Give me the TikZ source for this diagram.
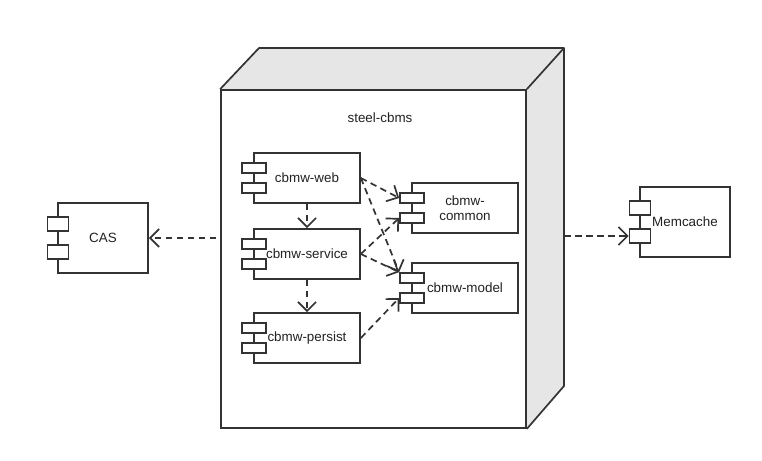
\documentclass[tikz,border=0pt]{standalone}
\usepackage{fontspec}
\setmainfont{Liberation Sans}
\usetikzlibrary{arrows.meta}
\definecolor{lc}{HTML}{333333}
\definecolor{tc}{HTML}{222222}
\definecolor{sidegray}{HTML}{E6E6E6}
\begin{document}
\begin{tikzpicture}[x=1pt,y=-1pt,
 comp/.style={draw=lc,line width=1.7pt,fill=white,minimum width=106pt,minimum height=50pt,inner sep=0pt,text=tc,align=center},
 tab/.style={draw=lc,line width=1.7pt,fill=white,minimum width=24pt,minimum height=10pt,inner sep=0pt},
 bigtab/.style={draw=lc,line width=1.7pt,fill=white,minimum width=21pt,minimum height=14pt,inner sep=0pt},
 dep/.style={draw=lc,line width=1.7pt,dash pattern=on 6.5pt off 4.5pt,-{Straight Barb[length=9pt,width=18pt,line width=1.7pt]}},
 lbl/.style={font=\fontsize{13.4}{15}\selectfont,text=tc},
]
\useasboundingbox (0,0) rectangle (762,460);
% 3D node
\fill[sidegray] (221,90) -- (259,48) -- (564,48) -- (564,386) -- (526,428) -- (526,90) -- cycle;
\node[draw=lc,line width=1.7pt,fill=white,minimum width=305pt,minimum height=338pt,inner sep=0pt] (sys) at (373.5,259) {};
\draw[lc,line width=1.7pt,line join=round] (sys.north west) -- (259,48) -- (564,48) -- (564,386) -- (sys.south east);
\draw[lc,line width=1.7pt] (sys.north east) -- (564,48);
\node[lbl] (systitle) at (380,118) {steel-cbms};
% components inside
\node[comp] (web) at (307,178) {};
\node[tab] (wt1) at (254,168) {};
\node[tab] (wt2) at (254,188) {};
\node[lbl] (webl) at (307,178) {cbmw-web};
\node[comp] (service) at (307,254) {};
\node[tab] (st1) at (254,244) {};
\node[tab] (st2) at (254,264) {};
\node[lbl] (servicel) at (307,254) {cbmw-service};
\node[comp] (persist) at (307,338) {};
\node[tab] (pt1) at (254,328) {};
\node[tab] (pt2) at (254,348) {};
\node[lbl] (persistl) at (307,338) {cbmw-persist};
\node[comp] (common) at (465,208) {};
\node[tab] (ct1) at (412,198) {};
\node[tab] (ct2) at (412,218) {};
\node[lbl,align=center] (commonl) at (465,208) {cbmw-\\common};
\node[comp] (model) at (465,288) {};
\node[tab] (mt1) at (412,278) {};
\node[tab] (mt2) at (412,298) {};
\node[lbl] (modell) at (465,288) {cbmw-model};
% external
\node[comp,minimum width=90pt,minimum height=70pt] (cas) at (103,238) {};
\node[bigtab] (cast1) at (58,224) {};
\node[bigtab] (cast2) at (58,252) {};
\node[lbl] (casl) at (103,238) {CAS};
\node[comp,minimum width=90pt,minimum height=70pt] (mem) at (685,222) {};
\node[bigtab] (memt1) at (640,208) {};
\node[bigtab] (memt2) at (640,236) {};
\node[lbl] (meml) at (685,222) {Memcache};
% connectors
\draw[dep] (web.south) -- (service.north);
\draw[dep] (service.south) -- (persist.north);
\draw[dep] (web.east) -- (ct1.west);
\draw[dep] (web.east) -- (mt1.north west);
\draw[dep] (service.east) -- (ct2.west);
\draw[dep] (service.east) -- (mt1.north west);
\draw[dep] (persist.east) -- (mt2.west);
\coordinate (casfrom) at (216,238);
\draw[dep] (casfrom) -- (cas.east);
\coordinate (memfrom) at (564,236);
\draw[dep] (memfrom) -- (memt2.west);
\end{tikzpicture}
\end{document}
